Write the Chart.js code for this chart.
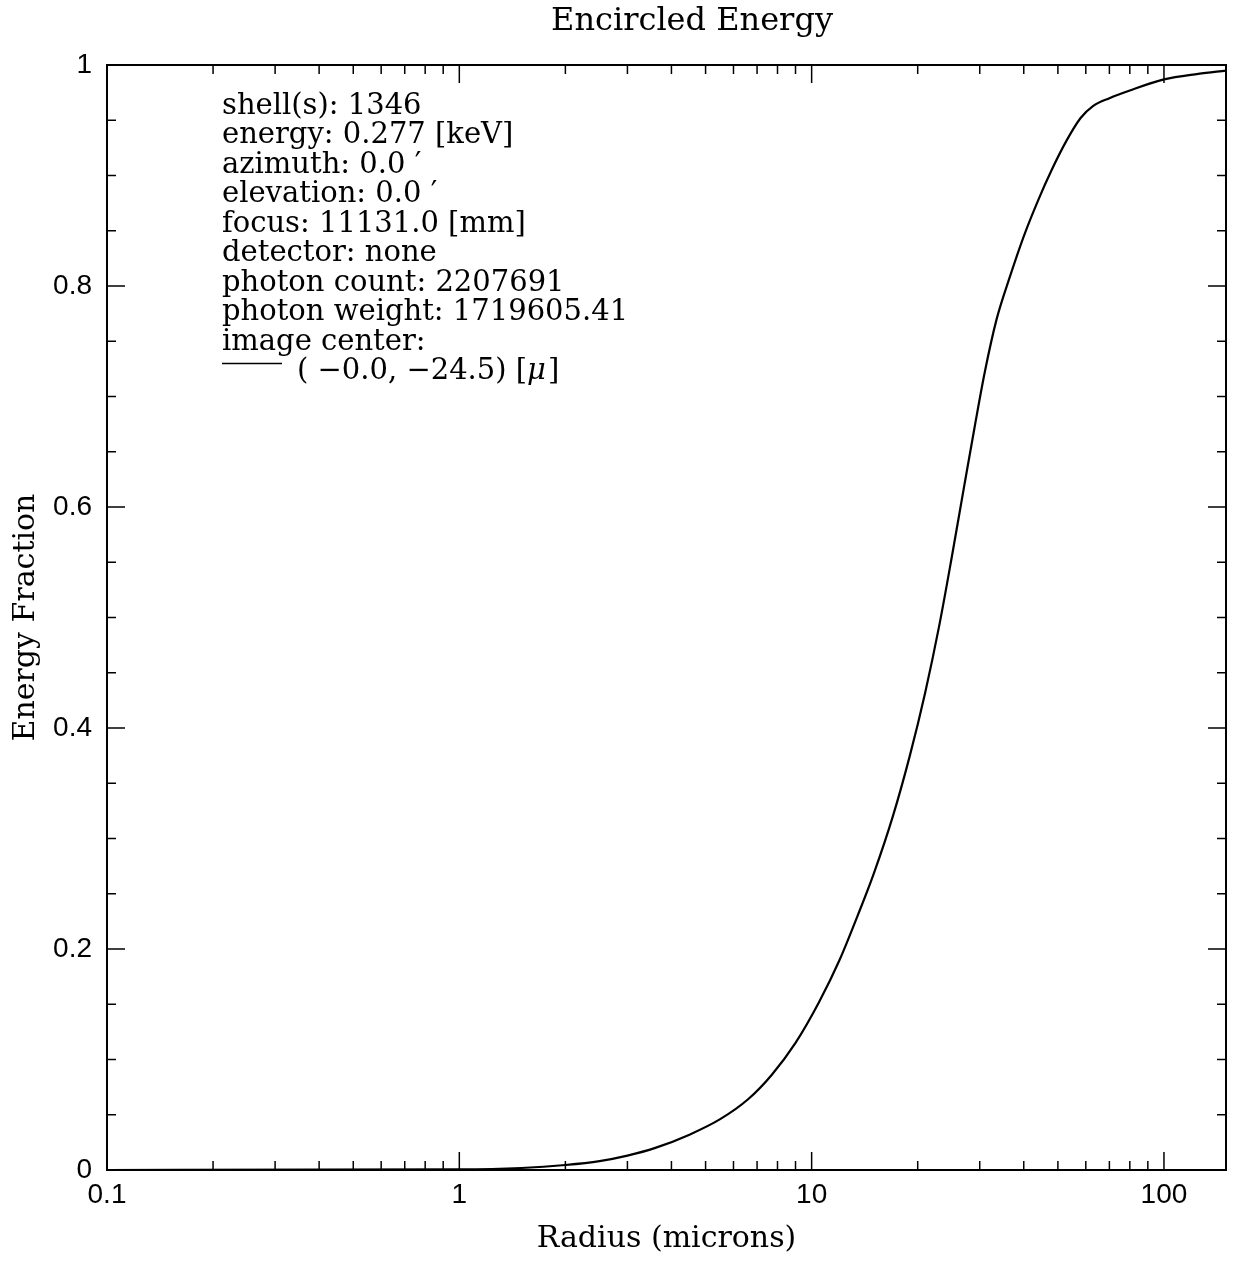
<!DOCTYPE html>
<html>
<head>
<meta charset="utf-8">
<title>Encircled Energy</title>
<script src="https://cdn.jsdelivr.net/npm/chart.js@4.4.0/dist/chart.umd.min.js"></script>
<style>
  html, body { margin: 0; padding: 0; background: #fff; }
</style>
</head>
<body>
<canvas id="eeChart" width="1237" height="1261"></canvas>
<script>
// --- 1. DATA ---
const radius = [0.1, 1.0, 1.5, 2.0, 2.5, 3.0, 3.6, 4.5, 5.5, 6.6, 7.7, 9.0, 10.5, 12.0, 13.5, 15.0,
    17.0, 19.0, 21.0, 23.0, 25.0, 27.0, 29.0, 31.0, 33.5, 36.5, 40.0, 44.0, 48.0, 53.0, 58.0, 63.0,
    70.0, 80.0, 100, 125, 150];
const energyFraction = [0, 0.0005, 0.0018, 0.0045, 0.008, 0.013, 0.020, 0.032, 0.046, 0.064, 0.086,
    0.115, 0.152, 0.190, 0.230, 0.268, 0.320, 0.375, 0.432, 0.492, 0.555, 0.616, 0.672, 0.722, 0.770,
    0.808, 0.845, 0.878, 0.905, 0.932, 0.952, 0.963, 0.970, 0.977, 0.987, 0.992, 0.995];

const xTickValues = [0.1, 1, 10, 100];
const xTickLabels = ['0.1', '1', '10', '100'];
const yTickValues = [0, 0.2, 0.4, 0.6, 0.8, 1];
const yTickLabels = ['0', '0.2', '0.4', '0.6', '0.8', '1'];

const chartTitle = 'Encircled Energy';
const infoLines = [
    'shell(s): 1346',
    'energy: 0.277 [keV]',
    'azimuth: 0.0 \u2032',
    'elevation: 0.0 \u2032',
    'focus: 11131.0 [mm]',
    'detector: none',
    'photon count: 2207691',
    'photon weight: 1719605.41',
    'image center:'
];
const centerText = '( \u22120.0, \u221224.5) [';

// --- 2. PLUGIN: title, frame, inward ticks on all sides, info block ---
const frameAndTicks = {
    id: 'frameAndTicks',
    afterDatasetsDraw(chart) {
        const { ctx, chartArea: a, scales: { x, y } } = chart;
        ctx.save();
        ctx.strokeStyle = '#000';
        ctx.fillStyle = '#000';

        function seg(x1, y1, x2, y2) {
            ctx.beginPath();
            ctx.moveTo(x1, y1);
            ctx.lineTo(x2, y2);
            ctx.stroke();
        }

        // title (sits a bit right of centre in the original)
        ctx.font = '32px "DejaVu Serif"';
        ctx.textAlign = 'center';
        ctx.textBaseline = 'middle';
        ctx.fillText(chartTitle, 692, 22);

        ctx.lineWidth = 1.5;
        // x ticks (log decades + minors)
        for (let e = -1; e <= 2; e++) {
            const d = Math.pow(10, e);
            for (let k = 1; k < 10; k++) {
                const v = d * k;
                if (v > x.max) break;
                const px = x.getPixelForValue(v);
                const len = k === 1 ? 18 : 9;
                seg(px, a.bottom, px, a.bottom - len);
                seg(px, a.top, px, a.top + len);
            }
        }
        // y ticks every 0.05, major every 0.2
        for (let i = 0; i <= 20; i++) {
            const py = y.getPixelForValue(i * 0.05);
            const len = i % 4 === 0 ? 18 : 9;
            seg(a.left, py, a.left + len, py);
            seg(a.right, py, a.right - len, py);
        }

        ctx.lineWidth = 2;
        ctx.strokeRect(a.left, a.top, a.right - a.left, a.bottom - a.top);

        // info block
        ctx.font = '29px "DejaVu Serif"';
        ctx.textAlign = 'left';
        const x0 = 222, y0 = 106, step = 29.5;
        infoLines.forEach((t, i) => ctx.fillText(t, x0, y0 + i * step));

        const yl = y0 + infoLines.length * step;
        ctx.lineWidth = 1.5;
        seg(x0, yl - 8, x0 + 60, yl - 8);
        const tx = x0 + 75;
        ctx.fillText(centerText, tx, yl);
        let w = ctx.measureText(centerText).width;
        ctx.font = 'italic 29px "DejaVu Serif"';
        ctx.fillText('\u03bc', tx + w, yl);
        w += ctx.measureText('\u03bc').width;
        ctx.font = '29px "DejaVu Serif"';
        ctx.fillText(']', tx + w + 2, yl);

        ctx.restore();
    }
};

// --- 3. CHART ---
const tickFont = { family: '"Liberation Sans"', size: 28 };
const titleFont = { family: '"DejaVu Serif"', size: 30, weight: 'normal' };

new Chart(document.getElementById('eeChart'), {
    type: 'line',
    data: {
        datasets: [{
            data: radius.map((r, i) => ({ x: r, y: energyFraction[i] })),
            borderColor: '#000',
            borderWidth: 2.2,
            pointRadius: 0,
            fill: false,
            cubicInterpolationMode: 'monotone'
        }]
    },
    options: {
        responsive: false,
        animation: false,
        layout: { padding: { left: 0, right: 11, top: 65, bottom: 0 } },
        plugins: {
            legend: { display: false },
            tooltip: { enabled: false },
            title: { display: false }
        },
        scales: {
            x: {
                type: 'logarithmic',
                min: 0.1,
                max: 150,
                afterBuildTicks: s => { s.ticks = xTickValues.map(v => ({ value: v })); },
                afterFit: s => { s.height = 91; },
                ticks: {
                    callback: (v, i) => xTickLabels[i],
                    autoSkip: false,
                    maxRotation: 0,
                    color: '#000',
                    font: tickFont,
                    padding: 8
                },
                grid: { display: false, drawTicks: false },
                border: { display: false },
                title: {
                    display: true,
                    text: 'Radius (microns)',
                    color: '#000',
                    font: titleFont,
                    padding: { top: 0, bottom: 4 }
                }
            },
            y: {
                min: 0,
                max: 1,
                afterBuildTicks: s => { s.ticks = yTickValues.map(v => ({ value: v })); },
                afterFit: s => { s.width = 107; },
                ticks: {
                    callback: (v, i) => yTickLabels[i],
                    color: '#000',
                    font: tickFont,
                    padding: 15
                },
                grid: { display: false, drawTicks: false },
                border: { display: false },
                title: {
                    display: true,
                    text: 'Energy Fraction',
                    color: '#000',
                    font: titleFont,
                    padding: { top: 8, bottom: 0 }
                }
            }
        }
    },
    plugins: [frameAndTicks]
});
</script>
</body>
</html>
